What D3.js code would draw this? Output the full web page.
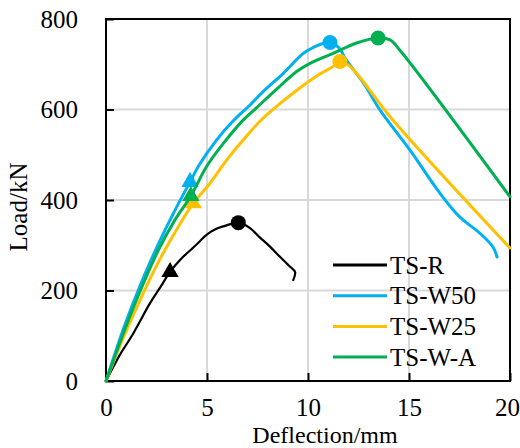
<!DOCTYPE html>
<html>

<head>
    <meta charset='utf-8'>
    <title>Load-Deflection</title>
    <script type='text/javascript' src='https://cdn.jsdelivr.net/npm/d3@7/dist/d3.min.js'></script>
    <style>
        body { margin: 0; background: #fff; }
        text { font-family: 'Liberation Serif', 'Times New Roman', serif; fill: #000; }
    </style>
</head>

<body>
    <svg width='520px' height='448px'></svg>
    <script type='text/javascript'>
        // data
        const seriesNames = ['TS-R', 'TS-W50', 'TS-W25', 'TS-W-A']
        const seriesColors = ['#000000', '#00b0f0', '#ffc000', '#00b050']
        const xTicks = [0, 5, 10, 15, 20]
        const yTicks = [0, 200, 400, 600, 800]

        const defR = [0, 0.65, 1.35, 2.18, 2.7, 3.17, 3.5, 3.83, 4.2, 4.65, 4.9, 5.2, 5.55, 5.97, 6.55, 7.13, 7.6, 8.12, 8.6, 9.1, 9.36, 9.27]
        const loadR = [0, 55, 105, 172, 208, 241, 259, 275, 290, 309, 320, 330, 338, 344, 350, 338, 318, 297, 275, 253, 241, 223]

        const defW50 = [0, 0.86, 1.68, 2.51, 3.33, 4.16, 4.65, 5.48, 6.3, 7.13, 7.79, 8.78, 9.77, 10.4, 10.75, 11.09, 11.5, 11.9, 12.8, 13.56, 15.05, 16.53, 17.52, 18.5, 19.16, 19.36]
        const loadW50 = [0, 115, 210, 295, 370, 440, 480, 533, 575, 610, 640, 680, 724, 740, 746, 748, 738, 709, 655, 599, 510, 415, 362, 327, 296, 274]

        const defW25 = [0, 0.9, 1.8, 2.7, 3.5, 4.32, 5.15, 5.97, 6.8, 7.62, 8.5, 9.4, 10.43, 11.24, 11.58, 12.08, 14.2, 20]
        const loadW25 = [0, 100, 190, 272, 335, 393, 437, 488, 533, 574, 609, 641, 674, 695, 706, 695, 577, 294]

        const defWA = [0, 0.9, 1.75, 2.6, 3.4, 4.2, 4.98, 5.81, 6.8, 7.46, 8.45, 9.44, 10.1, 11.24, 12.41, 13.47, 14.06, 14.55, 20]
        const loadWA = [0, 110, 205, 290, 355, 409, 474, 525, 577, 604, 645, 684, 702, 724, 747, 758, 754, 731, 407]

        // triangle = cracking point, circle = peak
        const crackDef = [3.17, 4.16, 4.32, 4.2]
        const crackLoad = [241, 440, 393, 409]
        const peakDef = [6.55, 11.09, 11.58, 13.47]
        const peakLoad = [350, 748, 706, 758]

        const svg = d3.select('svg')
        const margin = { top: 19, left: 106, right: 10, bottom: 67 }
        const width = 520 - margin.left - margin.right
        const height = 448 - margin.top - margin.bottom
        const fontSize = '25px'

        const xScale = d3.scaleLinear([0, 20], [0, width])
        const yScale = d3.scaleLinear([0, 800], [height, 0])

        const g = svg.append('g').attr('id', 'maingroup').attr('transform', `translate(${margin.left}, ${margin.top})`)

        // grid
        g.append('g').selectAll('line').data(xTicks.slice(1, -1)).join('line')
            .attr('x1', d => xScale(d)).attr('x2', d => xScale(d))
            .attr('y1', 0).attr('y2', height)
            .attr('stroke', '#d9d9d9').attr('stroke-width', 2)
        g.append('g').selectAll('line').data(yTicks.slice(1, -1)).join('line')
            .attr('y1', d => yScale(d)).attr('y2', d => yScale(d))
            .attr('x1', 0).attr('x2', width)
            .attr('stroke', '#d9d9d9').attr('stroke-width', 2)

        // axes, ticks point inward
        const xAxis = d3.axisBottom(xScale).tickValues(xTicks).tickSizeInner(-8).tickSizeOuter(0).tickPadding(17)
        const yAxis = d3.axisLeft(yScale).tickValues(yTicks).tickSizeInner(-8).tickSizeOuter(0).tickPadding(28)
        const gx = g.append('g').attr('transform', `translate(0, ${height})`).call(xAxis)
        const gy = g.append('g').call(yAxis)
        for (const ax of [gx, gy]) {
            ax.selectAll('line').attr('stroke', '#000').attr('stroke-width', 2)
            ax.select('.domain').remove()
            ax.selectAll('text').style('font-size', fontSize).attr('fill', '#000')
        }
        // last label sits against the right edge
        gx.selectAll('.tick text').filter(d => d === 20).attr('dx', -3)

        // frame
        g.append('rect').attr('width', width).attr('height', height)
            .attr('fill', 'none').attr('stroke', '#000').attr('stroke-width', 2)

        // curves
        const allDef = [defR, defW50, defW25, defWA]
        const allLoad = [loadR, loadW50, loadW25, loadWA]
        const line = d3.line().x(d => xScale(d[0])).y(d => yScale(d[1])).curve(d3.curveCatmullRom.alpha(0.5))

        seriesNames.forEach((name, i) => {
            const pts = allDef[i].map((d, j) => [d, allLoad[i][j]])
            g.append('path').datum(pts)
                .attr('d', line)
                .attr('fill', 'none')
                .attr('stroke', seriesColors[i])
                .attr('stroke-width', i === 0 ? 2.2 : 3)
                .attr('stroke-linejoin', 'round')
                .attr('stroke-linecap', 'round')
            g.append('path')
                .attr('d', d3.symbol(d3.symbolTriangle, 130)())
                .attr('transform', `translate(${xScale(crackDef[i])}, ${yScale(crackLoad[i])})`)
                .attr('fill', seriesColors[i])
            g.append('circle')
                .attr('cx', xScale(peakDef[i])).attr('cy', yScale(peakLoad[i]))
                .attr('r', 7.5)
                .attr('fill', seriesColors[i])
        })

        // legend
        const legend = svg.append('g').attr('transform', 'translate(333, 265)')
        seriesNames.forEach((name, i) => {
            const row = legend.append('g').attr('transform', `translate(0, ${i * 30.7})`)
            row.append('line').attr('x1', 0).attr('x2', 54)
                .attr('stroke', seriesColors[i]).attr('stroke-width', 3)
            row.append('text').attr('x', 57).attr('y', 0).attr('dy', '0.35em')
                .style('font-size', fontSize).text(name)
        })

        // axis titles
        svg.append('text').attr('x', 325).attr('y', 443)
            .style('text-anchor', 'middle').style('font-size', '24px')
            .text('Deflection/mm')
        svg.append('text').attr('transform', 'translate(27, 207) rotate(-90)')
            .style('text-anchor', 'middle').style('font-size', fontSize)
            .text('Load/kN')
    </script>
</body>

</html>
